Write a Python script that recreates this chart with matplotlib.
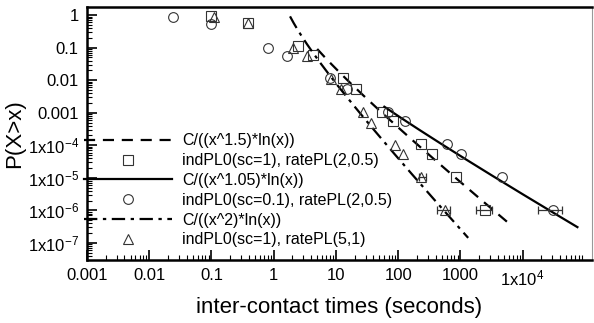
import numpy as np
import matplotlib
matplotlib.use("Agg")
import matplotlib.pyplot as plt
from matplotlib.ticker import FixedLocator, LogLocator, NullFormatter, FixedFormatter

# =========================
# Settings
# =========================
plt.rcParams.update({
    "font.family": ["Liberation Sans", "DejaVu Sans"],
    "mathtext.fontset": "custom",
    "mathtext.rm": "Liberation Sans",
    "mathtext.it": "Liberation Sans:italic",
})

# =========================
# Data
# =========================
sq_x = [0.099, 0.39, 2.46, 4.3, 13, 21, 55, 83, 234, 352, 855, 2500]
sq_y = [0.93, 0.57, 0.11, 0.059, 0.0117, 0.0054, 0.00106, 0.00056, 1.1e-4, 5.5e-5, 1.07e-5, 1.0e-6]

ci_x = [0.024, 0.099, 0.81, 1.64, 8.07, 15, 69, 130, 615, 1030, 4700, 31000]
ci_y = [0.87, 0.53, 0.10, 0.055, 0.0117, 0.0054, 0.00106, 0.00056, 1.1e-4, 5.5e-5, 1.07e-5, 1.0e-6]

tr_x = [0.11, 0.39, 2.05, 3.44, 8.3, 12, 27, 37, 89, 120, 234, 570]
tr_y = [0.9, 0.57, 0.10, 0.055, 0.011, 0.0054, 0.00106, 0.00049, 1.0e-4, 5.5e-5, 1.07e-5, 1.05e-6]

# x error bars on the last points (low, high)
sq_err = (1800, 3200)
ci_err = (17800, 43000)
tr_err = (425, 686)
tr_err2 = (215, 280)

# fitted curves: C / (x^a * ln(x))
fits = [
    {"C": 1.63, "a": 1.5, "x0": 5.0, "x1": 5600, "ls": (0, (5, 3.5)), "label": "C/((x^1.5)*ln(x))"},
    {"C": 0.46, "a": 1.05, "x0": 60, "x1": 76000, "ls": "-", "label": "C/((x^1.05)*ln(x))"},
    {"C": 1.84, "a": 2.0, "x0": 1.83, "x1": 1334, "ls": (0, (6, 2.5, 1.5, 2.5)), "label": "C/((x^2)*ln(x))"},
]

x_major = [1e-3, 1e-2, 1e-1, 1, 10, 100, 1000, 1e4]
x_labels = ["0.001", "0.01", "0.1", "1", "10", "100", "1000", r"1x10$^{4}$"]
y_major = [1, 0.1, 0.01, 0.001, 1e-4, 1e-5, 1e-6, 1e-7]
y_labels = ["1", "0.1", "0.01", "0.001", r"1x10$^{-4}$", r"1x10$^{-5}$", r"1x10$^{-6}$", r"1x10$^{-7}$"]

# =========================
# Plot
# =========================
fig = plt.figure(figsize=(5.94, 3.23), dpi=100)
ax = fig.add_axes([0.1465, 0.195, 0.85, 0.783])

mk = dict(linestyle="none", markerfacecolor="none", markeredgecolor="#333333",
          markeredgewidth=0.8, markersize=7)

def fit_line(f):
    xs = np.logspace(np.log10(f["x0"]), np.log10(f["x1"]), 200)
    return xs, f["C"] / (xs ** f["a"] * np.log(xs))

handles = []
labels = []

markers = [("s", sq_x, sq_y, "indPL0(sc=1), ratePL(2,0.5)"),
           ("o", ci_x, ci_y, "indPL0(sc=0.1), ratePL(2,0.5)"),
           ("^", tr_x, tr_y, "indPL0(sc=1), ratePL(5,1)")]

for f, (m, xs, ys, lab) in zip(fits, markers):
    lx, ly = fit_line(f)
    ln, = ax.plot(lx, ly, color="black", linestyle=f["ls"], linewidth=1.6)
    pts, = ax.plot(xs, ys, marker=m, **mk)
    handles += [ln, pts]
    labels += [f["label"], lab]

# error bars
for (lo, hi), xc, yc in [(sq_err, sq_x[-1], sq_y[-1]), (ci_err, ci_x[-1], ci_y[-1]),
                         (tr_err, tr_x[-1], tr_y[-1]), (tr_err2, tr_x[-2], tr_y[-2])]:
    ax.errorbar([xc], [yc], xerr=[[xc - lo], [hi - xc]], fmt="none",
                ecolor="#333333", elinewidth=0.9, capsize=3, capthick=0.9)

ax.set_xscale("log")
ax.set_yscale("log")
ax.set_xlim(1e-3, 1.3e5)
ax.set_ylim(3e-8, 1.75)

ax.xaxis.set_major_locator(FixedLocator(x_major))
ax.xaxis.set_major_formatter(FixedFormatter(x_labels))
ax.xaxis.set_minor_locator(LogLocator(base=10, subs=np.arange(2, 10), numticks=20))
ax.xaxis.set_minor_formatter(NullFormatter())
ax.yaxis.set_major_locator(FixedLocator(y_major))
ax.yaxis.set_major_formatter(FixedFormatter(y_labels))
ax.yaxis.set_minor_locator(LogLocator(base=10, subs=np.arange(2, 10), numticks=20))
ax.yaxis.set_minor_formatter(NullFormatter())

ax.tick_params(which="major", direction="in", length=7, width=1.2, labelsize=12,
               top=False, right=False, pad=6)
ax.tick_params(which="minor", direction="in", length=3.5, width=0.8,
               top=False, right=False)

for s in ["left", "bottom", "top"]:
    ax.spines[s].set_linewidth(1.8)
ax.spines["right"].set_linewidth(0.8)
ax.spines["right"].set_color("#999999")

ax.set_xlabel("inter-contact times (seconds)", fontsize=16, labelpad=6)
ax.set_ylabel("P(X>x)", fontsize=16, labelpad=2)

ax.legend(handles, labels, loc="lower left", bbox_to_anchor=(-0.005, 0.05),
          frameon=False, fontsize=11.5, handlelength=5.5, handletextpad=0.6,
          labelspacing=0.3, borderaxespad=0, borderpad=0)

fig.savefig("out.png", dpi=100)
